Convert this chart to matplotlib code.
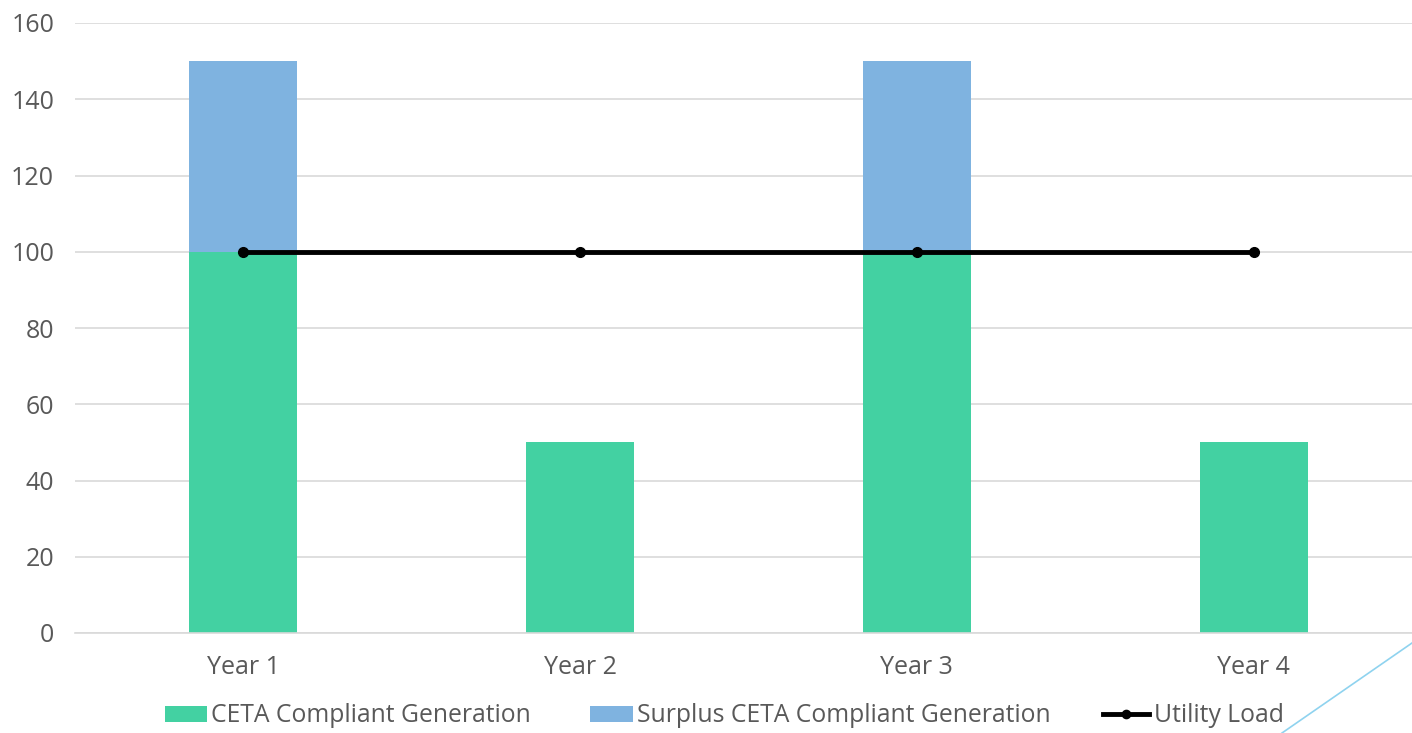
import numpy as np
import matplotlib.pyplot as plt
from matplotlib.lines import Line2D

years = ['Year 1', 'Year 2', 'Year 3', 'Year 4']
compliant = [100, 50, 100, 50]
surplus = [50, 0, 50, 0]
load = [100, 100, 100, 100]

green = '#43D1A2'
blue = '#7FB3E0'
txt = '#595959'

plt.rcParams['font.family'] = ['Open Sans', 'DejaVu Sans']

fig = plt.figure(figsize=(14.12, 7.33), dpi=100)
ax = fig.add_axes([75/1412, 1-633/733, 1347/1412, 610/733])

x = np.arange(len(years))
b1 = ax.bar(x, compliant, width=0.32, color=green, label='CETA Compliant Generation', zorder=2)
b2 = ax.bar(x, surplus, width=0.32, bottom=compliant, color=blue,
            label='Surplus CETA Compliant Generation', zorder=2)
ln, = ax.plot(x, load, color='black', lw=3.5, marker='o', ms=7, label='Utility Load', zorder=3)

ax.set_xlim(-0.5, 3.5)
ax.set_ylim(0, 160)
ax.set_yticks(range(0, 161, 20))
ax.set_xticks(x)
ax.set_xticklabels(years)
ax.grid(axis='y', color='#d9d9d9', lw=1.2, zorder=0)
ax.set_axisbelow(True)
for s in ['top', 'right', 'left']:
    ax.spines[s].set_visible(False)
ax.spines['bottom'].set_color('#d9d9d9')
ax.spines['bottom'].set_linewidth(1.2)
ax.tick_params(axis='both', length=0, labelsize=18, colors=txt)
ax.tick_params(axis='y', pad=15)
ax.tick_params(axis='x', pad=16)

# legend entries placed one by one to match the spacing
yl = 1 - 716/733
for handle, lab, xpos, hl in [(b1, 'CETA Compliant Generation', 165, 1.68),
                              (b2, 'Surplus CETA Compliant Generation', 590, 1.72),
                              (ln, 'Utility Load', 1103, 1.88)]:
    fig.legend([handle], [lab], loc='center left', bbox_to_anchor=(xpos/1412, yl),
               frameon=False, fontsize=17.8, labelcolor=txt, handlelength=hl,
               handleheight=0.6, handletextpad=0.2, borderpad=0, borderaxespad=0,
               markerscale=0.85)

# slide decoration in bottom right corner
fig.add_artist(Line2D([1, 1282/1412], [1-643/733, 0], color='#8fd3ef', lw=1.2,
                      transform=fig.transFigure))

fig.savefig('out.png', dpi=100)
